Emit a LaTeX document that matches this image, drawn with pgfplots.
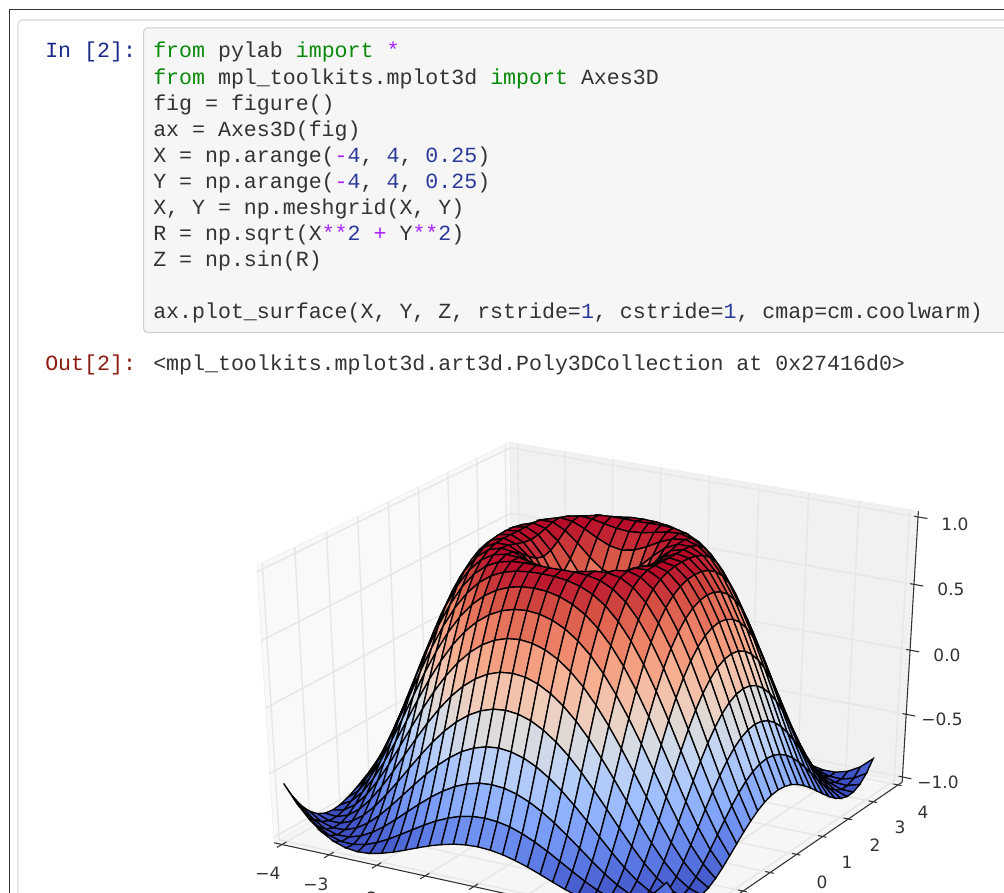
\documentclass[border=0pt]{standalone}
\usepackage{pgfplots}
\usepackage{fontspec}
\pgfplotsset{compat=1.18}
\newfontfamily\code{Liberation Mono}
\newfontfamily\vera{DejaVu Sans}
\definecolor{kwg}{HTML}{0A8A0A}
\definecolor{opp}{HTML}{AA22FF}
\definecolor{numb}{HTML}{2A3A9A}
\definecolor{txt}{HTML}{333333}
\definecolor{prompt}{HTML}{1A2A8A}
\definecolor{outp}{HTML}{8B1A10}
\definecolor{gridc}{HTML}{E6E6E6}
\definecolor{tickc}{HTML}{333333}
\definecolor{paneL}{HTML}{F9F9F9}
\definecolor{paneR}{HTML}{F1F1F1}
\definecolor{paneB}{HTML}{F6F6F6}
\definecolor{paneE}{HTML}{ECECEC}
\newcommand\kwd[1]{\textcolor{kwg}{#1}}
\newcommand\opr[1]{\textcolor{opp}{#1}}
\newcommand\nmb[1]{\textcolor{numb}{#1}}
\newcommand\cdl[2]{\node[anchor=base west,inner sep=0pt,text=txt] at (153,#1) {\code\fontsize{16.2pt}{18pt}\selectfont #2};}
\newcommand\tkl[3]{\node[inner sep=0pt,text=tickc] at (#1,893-#2) {\vera\fontsize{12.75pt}{14pt}\selectfont #3};}
\newcommand\seg[7]{\addplot3[#1] table[row sep=\\,x expr={PXf(\thisrow{x},\thisrow{y},\thisrow{z})},y expr={PYf(\thisrow{x},\thisrow{y},\thisrow{z})},z expr=0]{x y z\\#2 #3 #4\\#5 #6 #7\\};}
\newcommand\pane[2]{\addplot3[fill=#1,draw=paneE,line width=0.4pt] table[row sep=\\,x expr={PXf(\thisrow{x},\thisrow{y},\thisrow{z})},y expr={PYf(\thisrow{x},\thisrow{y},\thisrow{z})},z expr=0]{x y z\\#2} --cycle;}
\begin{document}
\begin{tikzpicture}[x=0.75pt,y=0.75pt,declare function={
PXf(\x,\y,\z)=593.2+4527*(0.108253*\x+0.0625*\y)/(10-(0.054127*\x-0.09375*\y+0.25*\z));
PYf(\x,\y,\z)=214.4+3034*(-0.03125*\x+0.054127*\y+0.433013*\z)/(10-(0.054127*\x-0.09375*\y+0.25*\z));
rowno(\i)=floor((\i+0.5)/32);
}]
\useasboundingbox (0,0) rectangle (1004,893);
\clip (0,0) rectangle (1004,893);
\fill[white] (0,0) rectangle (1004,893);
% notebook frame
\draw[color=black!80,line width=0.9pt] (9.5,-5) -- (9.5,883.5) -- (1010,883.5);
\draw[color=black!15,line width=0.9pt,rounded corners=3pt] (18,-5) -- (18,873) -- (1010,873);
\draw[fill=black!3.5,draw=black!19,line width=0.75pt,rounded corners=3pt] (143.5,560.5) rectangle (1012,865);
\node[anchor=base west,inner sep=0pt,text=prompt] at (45,835) {\code\fontsize{16.2pt}{18pt}\selectfont In [2]:};
\node[anchor=base west,inner sep=0pt,text=outp] at (45,522) {\code\fontsize{16.2pt}{18pt}\selectfont Out[2]:};
\cdl{835}{\kwd{from} pylab \kwd{import} \opr{*}}
\cdl{808.9}{\kwd{from} mpl\_toolkits.mplot3d \kwd{import} Axes3D}
\cdl{782.8}{fig = figure()}
\cdl{756.7}{ax = Axes3D(fig)}
\cdl{730.6}{X = np.arange(\opr{-}\nmb{4}, \nmb{4}, \nmb{0.25})}
\cdl{704.5}{Y = np.arange(\opr{-}\nmb{4}, \nmb{4}, \nmb{0.25})}
\cdl{678.4}{X, Y = np.meshgrid(X, Y)}
\cdl{652.3}{R = np.sqrt(X\opr{**}\nmb{2} \opr{+} Y\opr{**}\nmb{2})}
\cdl{626.2}{Z = np.sin(R)}
\cdl{574}{ax.plot\_surface(X, Y, Z, rstride=\nmb{1}, cstride=\nmb{1}, cmap=cm.coolwarm)}
\cdl{522}{<mpl\_toolkits.mplot3d.art3d.Poly3DCollection at 0x27416d0>}
\begin{axis}[at={(0,0)},anchor=south west,scale only axis,width=753pt,height=669.75pt,
 xmin=0,xmax=1004,ymin=0,ymax=893,zmin=-2,zmax=2,view={0}{90},hide axis,clip=false,no markers,
 colormap={cw}{rgb255=(59,76,192) rgb255=(89,119,227) rgb255=(123,159,249) rgb255=(158,190,255) rgb255=(192,212,245) rgb255=(221,220,220) rgb255=(242,203,183) rgb255=(247,172,142) rgb255=(238,132,104) rgb255=(214,82,68) rgb255=(180,4,38)},
 point meta min=-1,point meta max=1]
% panes
\pane{paneL}{-4.1667 -4.1667 -1.0417\\-4.1667 4.1667 -1.0417\\-4.1667 4.1667 1.0417\\-4.1667 -4.1667 1.0417\\}
\pane{paneR}{-4.1667 4.1667 -1.0417\\4.1667 4.1667 -1.0417\\4.1667 4.1667 1.0417\\-4.1667 4.1667 1.0417\\}
\pane{paneB}{-4.1667 -4.1667 -1.0417\\4.1667 -4.1667 -1.0417\\4.1667 4.1667 -1.0417\\-4.1667 4.1667 -1.0417\\}
% grid
\pgfplotsinvokeforeach{-4,-3,-2,-1,0,1,2,3,4}{
 \seg{gridc,line width=1pt}{#1}{-4.1667}{-1.0417}{#1}{4.1667}{-1.0417}
 \seg{gridc,line width=1pt}{#1}{4.1667}{-1.0417}{#1}{4.1667}{1.0417}
 \seg{gridc,line width=1pt}{-4.1667}{#1}{-1.0417}{4.1667}{#1}{-1.0417}
 \seg{gridc,line width=1pt}{-4.1667}{#1}{-1.0417}{-4.1667}{#1}{1.0417}
}
\pgfplotsinvokeforeach{-1,-0.5,0,0.5,1}{
 \seg{gridc,line width=1pt}{-4.1667}{-4.1667}{#1}{-4.1667}{4.1667}{#1}
 \seg{gridc,line width=1pt}{-4.1667}{4.1667}{#1}{4.1667}{4.1667}{#1}
}
% axis lines and ticks
\seg{tickc,line width=0.8pt}{-4.1667}{-4.1667}{-1.0417}{4.1667}{-4.1667}{-1.0417}
\seg{tickc,line width=0.8pt}{4.1667}{-4.1667}{-1.0417}{4.1667}{4.1667}{-1.0417}
\seg{tickc,line width=0.8pt}{4.1667}{4.1667}{-1.0417}{4.1667}{4.1667}{1.0417}
\pgfplotsinvokeforeach{-4,-3,-2,-1,0,1,2,3,4}{
 \seg{tickc,line width=0.8pt}{#1}{-4.33}{-1.0417}{#1}{-4.02}{-1.0417}
 \seg{tickc,line width=0.8pt}{4.07}{#1}{-1.0417}{4.24}{#1}{-1.0417}
}
\pgfplotsinvokeforeach{-1,-0.5,0,0.5,1}{
 \seg{tickc,line width=0.8pt}{4.09}{4.1667}{#1}{4.35}{4.1667}{#1}
}
% surface: z = values, rows y = 3.75 ... -4, x = -4 ... 3.75
\addplot3[surf,shader=faceted,faceted color=black,line width=1pt,z buffer=none,mesh/rows=32,mesh/cols=32,mesh/ordering=x varies,point meta=\thisrow{z}]
 table[row sep=\\,
  x expr={PXf(-4+0.25*(\coordindex-32*rowno(\coordindex)),3.75-0.25*rowno(\coordindex),\thisrow{z})},
  y expr={PYf(-4+0.25*(\coordindex-32*rowno(\coordindex)),3.75-0.25*rowno(\coordindex),\thisrow{z})},
  z expr=\thisrow{z}]{
z\\
-.718\\-.830\\-.914\\-.969\\-.996\\-.998\\-.979\\-.943\\-.895\\-.839\\-.782\\-.725\\-.674\\-.631\\-.598\\-.579\\-.572\\-.579\\-.598\\-.631\\-.674\\-.725\\-.782\\-.839\\-.895\\-.943\\-.979\\-.998\\-.996\\-.969\\-.914\\-.830\\
-.824\\-.914\\-.972\\-.998\\-.995\\-.966\\-.917\\-.852\\-.777\\-.697\\-.618\\-.544\\-.478\\-.424\\-.384\\-.359\\-.351\\-.359\\-.384\\-.424\\-.478\\-.544\\-.618\\-.697\\-.777\\-.852\\-.917\\-.966\\-.995\\-.998\\-.972\\-.914\\
-.904\\-.969\\-.998\\-.993\\-.958\\-.899\\-.819\\-.725\\-.624\\-.522\\-.424\\-.334\\-.256\\-.192\\-.146\\-.118\\-.108\\-.118\\-.146\\-.192\\-.256\\-.334\\-.424\\-.522\\-.624\\-.725\\-.819\\-.899\\-.958\\-.993\\-.998\\-.969\\
-.959\\-.996\\-.995\\-.958\\-.892\\-.801\\-.691\\-.572\\-.448\\-.326\\-.211\\-.108\\-.021\\.049\\.100\\.131\\.141\\.131\\.100\\.049\\-.021\\-.108\\-.211\\-.326\\-.448\\-.572\\-.691\\-.801\\-.892\\-.958\\-.995\\-.996\\
-.990\\-.998\\-.966\\-.899\\-.801\\-.680\\-.544\\-.400\\-.256\\-.118\\.009\\.121\\.214\\.287\\.340\\.372\\.382\\.372\\.340\\.287\\.214\\.121\\.009\\-.118\\-.256\\-.400\\-.544\\-.680\\-.801\\-.899\\-.966\\-.998\\
-1.000\\-.979\\-.917\\-.819\\-.691\\-.544\\-.384\\-.220\\-.060\\.090\\.224\\.340\\.434\\.507\\.558\\.588\\.598\\.588\\.558\\.507\\.434\\.340\\.224\\.090\\-.060\\-.220\\-.384\\-.544\\-.691\\-.819\\-.917\\-.979\\
-.993\\-.943\\-.852\\-.725\\-.572\\-.400\\-.220\\-.040\\.131\\.287\\.424\\.538\\.628\\.696\\.742\\.769\\.778\\.769\\.742\\.696\\.628\\.538\\.424\\.287\\.131\\-.040\\-.220\\-.400\\-.572\\-.725\\-.852\\-.943\\
-.971\\-.895\\-.777\\-.624\\-.448\\-.256\\-.060\\.131\\.308\\.465\\.598\\.705\\.786\\.844\\.882\\.903\\.909\\.903\\.882\\.844\\.786\\.705\\.598\\.465\\.308\\.131\\-.060\\-.256\\-.448\\-.624\\-.777\\-.895\\
-.941\\-.839\\-.697\\-.522\\-.326\\-.118\\.090\\.287\\.465\\.618\\.742\\.837\\.903\\.945\\.969\\.981\\.984\\.981\\.969\\.945\\.903\\.837\\.742\\.618\\.465\\.287\\.090\\-.118\\-.326\\-.522\\-.697\\-.839\\
-.905\\-.782\\-.618\\-.424\\-.211\\.009\\.224\\.424\\.598\\.742\\.853\\.928\\.973\\.994\\1.000\\.999\\.997\\.999\\1.000\\.994\\.973\\.928\\.853\\.742\\.598\\.424\\.224\\.009\\-.211\\-.424\\-.618\\-.782\\
-.867\\-.725\\-.544\\-.334\\-.108\\.121\\.340\\.538\\.705\\.837\\.928\\.981\\1.000\\.994\\.975\\.957\\.949\\.957\\.975\\.994\\1.000\\.981\\.928\\.837\\.705\\.538\\.340\\.121\\-.108\\-.334\\-.544\\-.725\\
-.831\\-.674\\-.478\\-.256\\-.021\\.214\\.434\\.628\\.786\\.903\\.973\\1.000\\.988\\.949\\.899\\.858\\.841\\.858\\.899\\.949\\.988\\1.000\\.973\\.903\\.786\\.628\\.434\\.214\\-.021\\-.256\\-.478\\-.674\\
-.801\\-.631\\-.424\\-.192\\.049\\.287\\.507\\.696\\.844\\.945\\.994\\.994\\.949\\.873\\.784\\.711\\.682\\.711\\.784\\.873\\.949\\.994\\.994\\.945\\.844\\.696\\.507\\.287\\.049\\-.192\\-.424\\-.631\\
-.777\\-.598\\-.384\\-.146\\.100\\.340\\.558\\.742\\.882\\.969\\1.000\\.975\\.899\\.784\\.650\\.530\\.479\\.530\\.650\\.784\\.899\\.975\\1.000\\.969\\.882\\.742\\.558\\.340\\.100\\-.146\\-.384\\-.598\\
-.762\\-.579\\-.359\\-.118\\.131\\.372\\.588\\.769\\.903\\.981\\.999\\.957\\.858\\.711\\.530\\.346\\.247\\.346\\.530\\.711\\.858\\.957\\.999\\.981\\.903\\.769\\.588\\.372\\.131\\-.118\\-.359\\-.579\\
-.757\\-.572\\-.351\\-.108\\.141\\.382\\.598\\.778\\.909\\.984\\.997\\.949\\.841\\.682\\.479\\.247\\0.000\\.247\\.479\\.682\\.841\\.949\\.997\\.984\\.909\\.778\\.598\\.382\\.141\\-.108\\-.351\\-.572\\
-.762\\-.579\\-.359\\-.118\\.131\\.372\\.588\\.769\\.903\\.981\\.999\\.957\\.858\\.711\\.530\\.346\\.247\\.346\\.530\\.711\\.858\\.957\\.999\\.981\\.903\\.769\\.588\\.372\\.131\\-.118\\-.359\\-.579\\
-.777\\-.598\\-.384\\-.146\\.100\\.340\\.558\\.742\\.882\\.969\\1.000\\.975\\.899\\.784\\.650\\.530\\.479\\.530\\.650\\.784\\.899\\.975\\1.000\\.969\\.882\\.742\\.558\\.340\\.100\\-.146\\-.384\\-.598\\
-.801\\-.631\\-.424\\-.192\\.049\\.287\\.507\\.696\\.844\\.945\\.994\\.994\\.949\\.873\\.784\\.711\\.682\\.711\\.784\\.873\\.949\\.994\\.994\\.945\\.844\\.696\\.507\\.287\\.049\\-.192\\-.424\\-.631\\
-.831\\-.674\\-.478\\-.256\\-.021\\.214\\.434\\.628\\.786\\.903\\.973\\1.000\\.988\\.949\\.899\\.858\\.841\\.858\\.899\\.949\\.988\\1.000\\.973\\.903\\.786\\.628\\.434\\.214\\-.021\\-.256\\-.478\\-.674\\
-.867\\-.725\\-.544\\-.334\\-.108\\.121\\.340\\.538\\.705\\.837\\.928\\.981\\1.000\\.994\\.975\\.957\\.949\\.957\\.975\\.994\\1.000\\.981\\.928\\.837\\.705\\.538\\.340\\.121\\-.108\\-.334\\-.544\\-.725\\
-.905\\-.782\\-.618\\-.424\\-.211\\.009\\.224\\.424\\.598\\.742\\.853\\.928\\.973\\.994\\1.000\\.999\\.997\\.999\\1.000\\.994\\.973\\.928\\.853\\.742\\.598\\.424\\.224\\.009\\-.211\\-.424\\-.618\\-.782\\
-.941\\-.839\\-.697\\-.522\\-.326\\-.118\\.090\\.287\\.465\\.618\\.742\\.837\\.903\\.945\\.969\\.981\\.984\\.981\\.969\\.945\\.903\\.837\\.742\\.618\\.465\\.287\\.090\\-.118\\-.326\\-.522\\-.697\\-.839\\
-.971\\-.895\\-.777\\-.624\\-.448\\-.256\\-.060\\.131\\.308\\.465\\.598\\.705\\.786\\.844\\.882\\.903\\.909\\.903\\.882\\.844\\.786\\.705\\.598\\.465\\.308\\.131\\-.060\\-.256\\-.448\\-.624\\-.777\\-.895\\
-.993\\-.943\\-.852\\-.725\\-.572\\-.400\\-.220\\-.040\\.131\\.287\\.424\\.538\\.628\\.696\\.742\\.769\\.778\\.769\\.742\\.696\\.628\\.538\\.424\\.287\\.131\\-.040\\-.220\\-.400\\-.572\\-.725\\-.852\\-.943\\
-1.000\\-.979\\-.917\\-.819\\-.691\\-.544\\-.384\\-.220\\-.060\\.090\\.224\\.340\\.434\\.507\\.558\\.588\\.598\\.588\\.558\\.507\\.434\\.340\\.224\\.090\\-.060\\-.220\\-.384\\-.544\\-.691\\-.819\\-.917\\-.979\\
-.990\\-.998\\-.966\\-.899\\-.801\\-.680\\-.544\\-.400\\-.256\\-.118\\.009\\.121\\.214\\.287\\.340\\.372\\.382\\.372\\.340\\.287\\.214\\.121\\.009\\-.118\\-.256\\-.400\\-.544\\-.680\\-.801\\-.899\\-.966\\-.998\\
-.959\\-.996\\-.995\\-.958\\-.892\\-.801\\-.691\\-.572\\-.448\\-.326\\-.211\\-.108\\-.021\\.049\\.100\\.131\\.141\\.131\\.100\\.049\\-.021\\-.108\\-.211\\-.326\\-.448\\-.572\\-.691\\-.801\\-.892\\-.958\\-.995\\-.996\\
-.904\\-.969\\-.998\\-.993\\-.958\\-.899\\-.819\\-.725\\-.624\\-.522\\-.424\\-.334\\-.256\\-.192\\-.146\\-.118\\-.108\\-.118\\-.146\\-.192\\-.256\\-.334\\-.424\\-.522\\-.624\\-.725\\-.819\\-.899\\-.958\\-.993\\-.998\\-.969\\
-.824\\-.914\\-.972\\-.998\\-.995\\-.966\\-.917\\-.852\\-.777\\-.697\\-.618\\-.544\\-.478\\-.424\\-.384\\-.359\\-.351\\-.359\\-.384\\-.424\\-.478\\-.544\\-.618\\-.697\\-.777\\-.852\\-.917\\-.966\\-.995\\-.998\\-.972\\-.914\\
-.718\\-.830\\-.914\\-.969\\-.996\\-.998\\-.979\\-.943\\-.895\\-.839\\-.782\\-.725\\-.674\\-.631\\-.598\\-.579\\-.572\\-.579\\-.598\\-.631\\-.674\\-.725\\-.782\\-.839\\-.895\\-.943\\-.979\\-.998\\-.996\\-.969\\-.914\\-.830\\
-.586\\-.718\\-.824\\-.904\\-.959\\-.990\\-1.000\\-.993\\-.971\\-.941\\-.905\\-.867\\-.831\\-.801\\-.777\\-.762\\-.757\\-.762\\-.777\\-.801\\-.831\\-.867\\-.905\\-.941\\-.971\\-.993\\-1.000\\-.990\\-.959\\-.904\\-.824\\-.718\\
};
\end{axis}
% tick labels
\tkl{955}{524}{1.0}
\tkl{951}{589}{0.5}
\tkl{947}{655}{0.0}
\tkl{942}{719}{−0.5}
\tkl{938}{782}{−1.0}
\tkl{923}{812}{4}
\tkl{900}{827}{3}
\tkl{875}{845}{2}
\tkl{847}{862}{1}
\tkl{822}{882}{0}
\tkl{795}{900}{−1}
\tkl{268}{873}{−4}
\tkl{316}{884}{−3}
\tkl{365}{898}{−2}
\end{tikzpicture}
\end{document}
